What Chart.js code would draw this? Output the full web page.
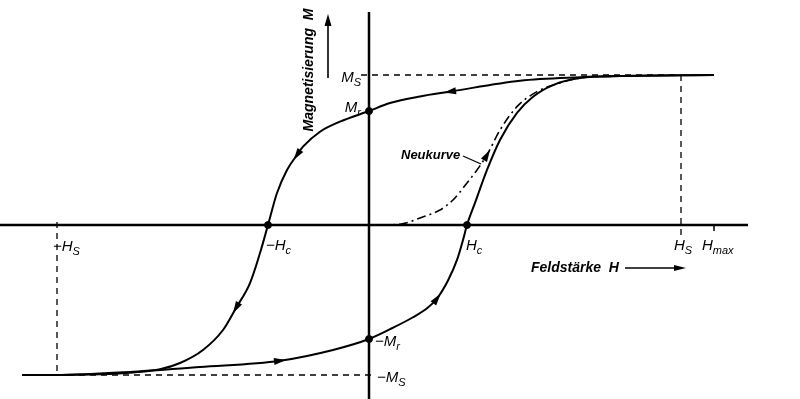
<!DOCTYPE html>
<html>
<head>
<meta charset="utf-8">
<script src="https://cdn.jsdelivr.net/npm/chart.js@4"></script>
<style>
html, body { margin: 0; padding: 0; background: #fff; }
canvas { display: block; }
</style>
</head>
<body>
<canvas id="myChart" width="800" height="399"></canvas>
<script>
// H in drawing units (Hs = 3.12), M relative to saturation (Ms = 1)
const upperH = [3.45, 2.51, 2.11, 1.51, 0.81, 0.51, 0.21, 0, -0.29, -0.49, -0.66, -0.72, -0.82, -0.92, -1.01, -1.09, -1.19, -1.33, -1.46, -1.66, -1.89, -2.09, -2.36, -2.69, -3.12, -3.47];
const upperM = [1.0, 0.993, 0.985, 0.962, 0.889, 0.857, 0.813, 0.76, 0.689, 0.622, 0.522, 0.467, 0.367, 0.213, 0, -0.187, -0.387, -0.553, -0.70, -0.833, -0.92, -0.962, -0.983, -0.995, -1.0, -1.0];
const lowerH = [-3.47, -3.12, -2.36, -1.69, -0.89, -0.36, 0, 0.24, 0.44, 0.58, 0.68, 0.79, 0.88, 0.94, 0.98, 1.06, 1.18, 1.31, 1.48, 1.64, 1.84, 2.11, 2.51, 3.45];
const lowerM = [-1.0, -1.0, -0.978, -0.947, -0.905, -0.833, -0.76, -0.685, -0.615, -0.555, -0.49, -0.37, -0.233, -0.10, 0, 0.147, 0.367, 0.567, 0.747, 0.855, 0.933, 0.98, 0.993, 1.0];
const virginH = [0.11, 0.31, 0.51, 0.71, 0.84, 0.98, 1.08, 1.18, 1.31, 1.48, 1.68, 1.91, 2.11, 2.51];
const virginM = [0, 0.005, 0.047, 0.10, 0.167, 0.28, 0.367, 0.467, 0.633, 0.789, 0.889, 0.947, 0.98, 0.993];

const satM = 1.0;
const remM = 0.76;
const coerH = [-1.01, 0.98];
const satH = 3.12;
const maxH = 3.45;

// arrow heads: [curve, point index]
const arrowMarks = [['upper', 4], ['upper', 11], ['upper', 17], ['lower', 4], ['lower', 10], ['virgin', 7]];

const labelFont = 'italic 15px "Liberation Sans", sans-serif';
const subFont = 'italic 11px "Liberation Sans", sans-serif';
const titleFont = 'italic bold 14px "Liberation Sans", sans-serif';

function toPoints(hs, ms) {
    return hs.map((h, i) => ({ x: h, y: ms[i] }));
}

function line(id, points, width, dash) {
    return {
        id: id,
        data: points,
        showLine: true,
        borderColor: '#000',
        backgroundColor: '#000',
        borderWidth: width,
        borderDash: dash || [],
        pointRadius: 0,
        tension: 0,
        fill: false
    };
}

function curve(id, points, width, dash) {
    const ds = line(id, points, width, dash);
    ds.cubicInterpolationMode = 'monotone';
    return ds;
}

const datasets = [
    line('hAxis', [{ x: -3.69, y: 0 }, { x: 3.79, y: 0 }], 2.5),
    line('mAxis', [{ x: 0, y: 1.42 }, { x: 0, y: -1.2 }], 2.5),
    line('msGuide', [{ x: -0.08, y: satM }, { x: satH, y: satM }], 1.3, [6, 5]),
    line('hsGuide', [{ x: satH, y: satM }, { x: satH, y: -0.07 }], 1.3, [6, 5]),
    line('negHsGuide', [{ x: -satH, y: 0.02 }, { x: -satH, y: -satM }], 1.3, [6, 5]),
    line('negMsGuide', [{ x: -satH, y: -satM }, { x: 0.06, y: -satM }], 1.3, [6, 5]),
    line('hmaxTick', [{ x: maxH, y: 0 }, { x: maxH, y: -0.04 }], 1.5),
    curve('upper', toPoints(upperH, upperM), 2),
    curve('lower', toPoints(lowerH, lowerM), 2),
    curve('virgin', toPoints(virginH, virginM), 1.6, [9, 4, 2, 4]),
    {
        id: 'marks',
        data: [{ x: 0, y: remM }, { x: 0, y: -remM }, { x: coerH[0], y: 0 }, { x: coerH[1], y: 0 }],
        showLine: false,
        pointRadius: 3.5,
        backgroundColor: '#000',
        borderColor: '#000'
    }
];

function drawHead(ctx, x, y, angle, len, half) {
    ctx.save();
    ctx.translate(x, y);
    ctx.rotate(angle);
    ctx.beginPath();
    ctx.moveTo(len / 2, 0);
    ctx.lineTo(-len / 2, -half);
    ctx.lineTo(-len / 2, half);
    ctx.closePath();
    ctx.fill();
    ctx.restore();
}

function drawSub(ctx, main, sub, x, y, align) {
    ctx.font = labelFont;
    const w1 = ctx.measureText(main).width;
    ctx.font = subFont;
    const w2 = ctx.measureText(sub).width;
    let left = align === 'right' ? x - w1 - w2 : x;
    ctx.textAlign = 'left';
    ctx.textBaseline = 'alphabetic';
    ctx.font = labelFont;
    ctx.fillText(main, left, y);
    ctx.font = subFont;
    ctx.fillText(sub, left + w1, y + 4);
}

const annotations = {
    id: 'annotations',
    afterDatasetsDraw(chart) {
        const ctx = chart.ctx;
        const xs = chart.scales.x;
        const ys = chart.scales.y;
        const byId = {};
        chart.data.datasets.forEach((ds, i) => { byId[ds.id] = i; });
        ctx.save();
        ctx.fillStyle = '#000';
        ctx.strokeStyle = '#000';

        // arrow heads along the curves
        for (const [id, i] of arrowMarks) {
            const pts = chart.getDatasetMeta(byId[id]).data;
            const a = pts[i - 1], b = pts[i + 1];
            const ang = Math.atan2(b.y - a.y, b.x - a.x);
            drawHead(ctx, pts[i].x, pts[i].y, ang, 12, 3.5);
        }

        const x0 = xs.getPixelForValue(0);
        const y0 = ys.getPixelForValue(0);

        // M labels
        drawSub(ctx, 'M', 'S', x0 - 8, ys.getPixelForValue(satM) + 7, 'right');
        drawSub(ctx, 'M', 'r', x0 - 8, ys.getPixelForValue(remM) + 1, 'right');
        drawSub(ctx, '\u2212M', 'r', x0 + 6, ys.getPixelForValue(-remM) + 7, 'left');
        drawSub(ctx, '\u2212M', 'S', x0 + 8, ys.getPixelForValue(-satM) + 7, 'left');

        // H labels
        drawSub(ctx, 'H', 'c', xs.getPixelForValue(coerH[1]) - 1, y0 + 25, 'left');
        drawSub(ctx, '\u2212H', 'c', xs.getPixelForValue(coerH[0]) - 2, y0 + 25, 'left');
        drawSub(ctx, 'H', 'S', xs.getPixelForValue(satH) - 7, y0 + 25, 'left');
        drawSub(ctx, 'H', 'max', xs.getPixelForValue(maxH) - 12, y0 + 25, 'left');
        drawSub(ctx, '\u2212H', 'S', xs.getPixelForValue(-satH) - 4, y0 + 26, 'left');

        // axis titles
        ctx.font = titleFont;
        ctx.textBaseline = 'alphabetic';
        ctx.save();
        ctx.translate(x0 - 56, 70);
        ctx.rotate(-Math.PI / 2);
        ctx.textAlign = 'center';
        ctx.fillText('Magnetisierung  M', 0, 0);
        ctx.restore();

        ctx.lineWidth = 1.6;
        ctx.beginPath();
        ctx.moveTo(x0 - 41, 78);
        ctx.lineTo(x0 - 41, 24);
        ctx.stroke();
        drawHead(ctx, x0 - 41, 20, -Math.PI / 2, 12, 3.5);

        ctx.textAlign = 'left';
        ctx.fillText('Feldst\u00e4rke  H', 531, y0 + 47);
        ctx.beginPath();
        ctx.moveTo(625, y0 + 43);
        ctx.lineTo(676, y0 + 43);
        ctx.stroke();
        drawHead(ctx, 680, y0 + 43, 0, 12, 3);

        // Neukurve label with leader
        ctx.font = 'italic bold 13px "Liberation Sans", sans-serif';
        ctx.fillText('Neukurve', 401, 159);
        ctx.lineWidth = 1.2;
        ctx.beginPath();
        ctx.moveTo(463, 156);
        ctx.lineTo(481, 164);
        ctx.stroke();

        ctx.restore();
    }
};

const config = {
    type: 'scatter',
    data: { datasets: datasets },
    options: {
        responsive: false,
        animation: false,
        layout: { padding: 0, autoPadding: false },
        scales: {
            x: { type: 'linear', display: false, min: -3.69, max: 4.31 },
            y: { type: 'linear', display: false, min: -1.16, max: 1.5 }
        },
        plugins: {
            legend: { display: false },
            tooltip: { enabled: false }
        }
    },
    plugins: [annotations]
};

var myChart = new Chart(document.getElementById('myChart'), config);
</script>
</body>
</html>
